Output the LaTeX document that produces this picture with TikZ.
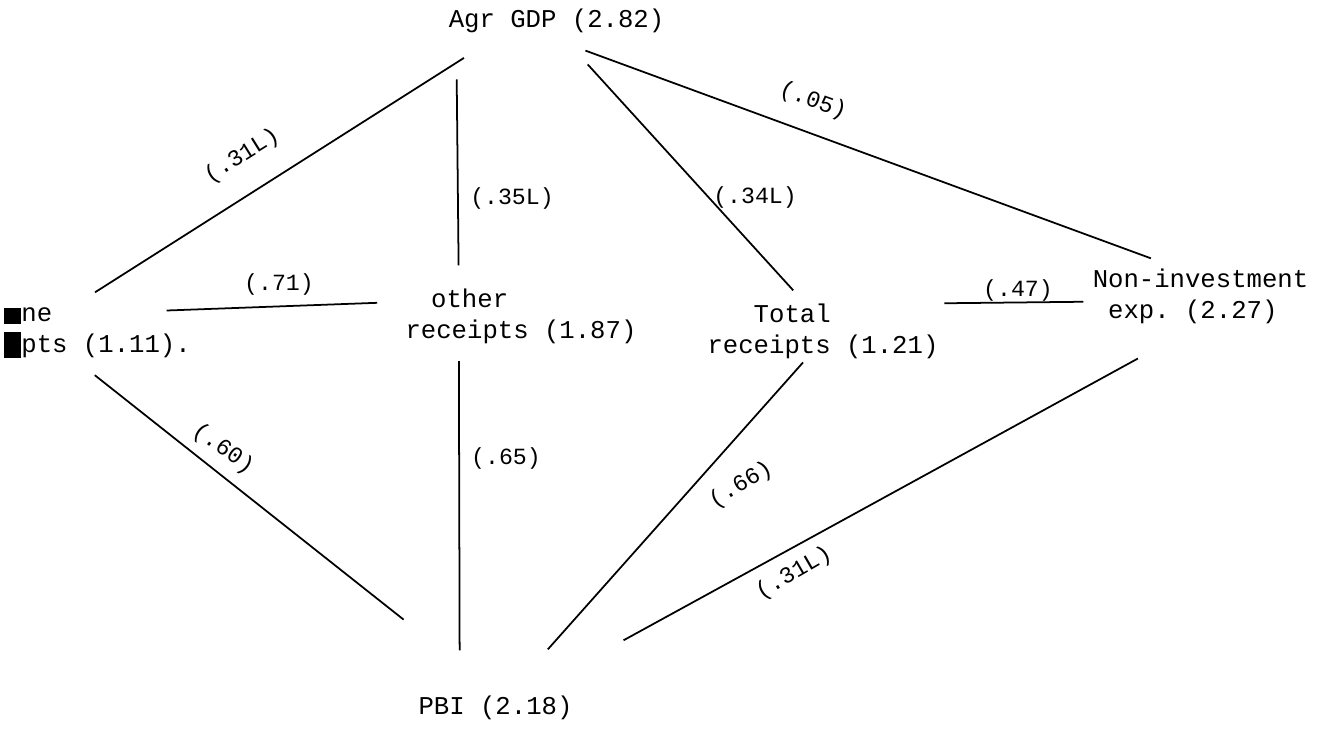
\documentclass[tikz,border=0pt]{standalone}
\usepackage{fontspec}
\setmonofont{Liberation Mono}

\begin{document}
\begin{tikzpicture}[x=0.02cm, y=-0.02cm,
  var/.style={inner sep=0pt, align=left, font=\ttfamily\fontsize{14.6}{17.5}\selectfont},
  coef/.style={inner sep=0pt, font=\ttfamily\fontsize{13.2}{15}\selectfont},
  link/.style={draw, line width=1pt}]

  \useasboundingbox (0,0) rectangle (1336,730);

  % variables
  \node[var] (agr)    at (556.5,20.7) {Agr GDP (2.82)};
  \node[var] (left)   at (97.3,333)   {\rule[-1pt]{10pt}{9pt}ne\\\rule[-3pt]{10pt}{15pt}pts (1.11).};
  \node[var] (other)  at (521,316)    {\hspace*{1em}other\\receipts (1.87)};
  \node[var] (total)  at (823,331)    {\hspace*{1.8em}Total\\receipts (1.21)};
  \node[var] (noninv) at (1200.5,296) {Non-investment\\\hspace*{0.6em}exp. (2.27)};
  \node[var] (pbi)    at (495.5,707.6) {PBI (2.18)};

  % links
  \path
    (agr.193)          edge[link, shorten <=0.93cm, shorten >=0.57cm] (left.136)
    (agr.187.3)        edge[link, shorten <=0.93cm, shorten >=0.46cm] (other.156.1)
    (agr.282)          edge[link, shorten <=0.85cm, shorten >=0.35cm] (total.123)
    (agr.213)          edge[link, shorten <=1.02cm, shorten >=0.58cm] (noninv.129.6)
    (left.14.3)        edge[link, shorten <=-0.49cm, shorten >=0.56cm] (other.173.7)
    (total.north east) edge[link, shorten <=0.11cm, shorten >=0.18cm] (noninv.183.2)
    (left.227)         edge[link, shorten <=0.54cm, shorten >=2.44cm] (pbi.73)
    (other.204)        edge[link, shorten <=0.35cm, shorten >=0.9cm]  (pbi.161.5)
    (total.239.4)      edge[link, shorten <=0.1cm,  shorten >=1.23cm] (pbi.47.6)
    (noninv.272)       edge[link, shorten <=1.45cm, shorten >=2.29cm] (pbi.24.3)
  ;

  % coefficients
  \node[coef, rotate=32]  (c-agr-left)     at (242,156)  {(.31L)};
  \node[coef]             (c-agr-other)    at (512,199)  {(.35L)};
  \node[coef]             (c-agr-total)    at (755,198)  {(.34L)};
  \node[coef, rotate=-20] (c-agr-noninv)   at (813,101)  {(.05)};
  \node[coef]             (c-left-other)   at (279,285)  {(.71)};
  \node[coef]             (c-total-noninv) at (1018,291) {(.47)};
  \node[coef, rotate=-36] (c-left-pbi)     at (223,449)  {(.60)};
  \node[coef]             (c-other-pbi)    at (506,458)  {(.65)};
  \node[coef, rotate=31]  (c-total-pbi)    at (741,485)  {(.66)};
  \node[coef, rotate=30]  (c-noninv-pbi)   at (794,573)  {(.31L)};

\end{tikzpicture}
\end{document}
